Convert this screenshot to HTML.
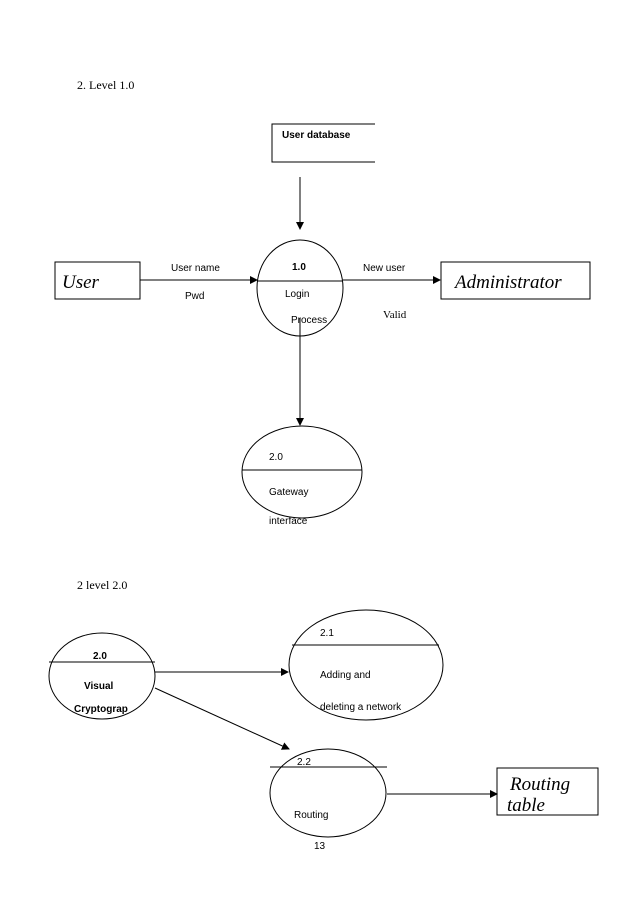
<!DOCTYPE html>
<html><head><style>
body{margin:0;background:#fff;}
svg text{font-family:"Liberation Sans",sans-serif;}
.s{font-family:"Liberation Serif",serif;}
</style></head><body>
<svg width="638" height="903" viewBox="0 0 638 903" xmlns="http://www.w3.org/2000/svg">
<defs><marker id="a" markerWidth="8" markerHeight="8" refX="7" refY="4" orient="auto" markerUnits="userSpaceOnUse"><path d="M0,0 L8,4 L0,8 z" fill="#000"/></marker></defs>
<g fill="none" stroke="#000" stroke-width="1">
<text x="77" y="89" class="s" font-size="12" fill="#000" stroke="none">2. Level  1.0</text>
<path d="M375,124 H272 V162 H375"/>
<line x1="300" y1="177" x2="300" y2="229" marker-end="url(#a)"/>
<rect x="55" y="262" width="85" height="37"/>
<rect x="441" y="262" width="149" height="37"/>
<ellipse cx="300" cy="288" rx="43" ry="48"/>
<line x1="258" y1="281" x2="343" y2="281"/>
<line x1="140" y1="280" x2="257" y2="280" marker-end="url(#a)"/>
<line x1="343" y1="280" x2="440" y2="280" marker-end="url(#a)"/>
<line x1="300" y1="318" x2="300" y2="425" marker-end="url(#a)"/>
<ellipse cx="302" cy="472" rx="60" ry="46"/>
<line x1="242" y1="470" x2="362" y2="470"/>
<ellipse cx="102" cy="676" rx="53" ry="43"/>
<line x1="49" y1="662" x2="155" y2="662"/>
<ellipse cx="366" cy="665" rx="77" ry="55"/>
<line x1="292" y1="645" x2="439" y2="645"/>
<line x1="155" y1="672" x2="288" y2="672" marker-end="url(#a)"/>
<line x1="155" y1="688" x2="289" y2="749" marker-end="url(#a)"/>
<ellipse cx="328" cy="793" rx="58" ry="44"/>
<line x1="270" y1="767" x2="387" y2="767"/>
<line x1="387" y1="794" x2="497" y2="794" marker-end="url(#a)"/>
<rect x="497" y="768" width="101" height="47"/>
</g>
<g fill="#000" font-size="10">
<text x="282" y="138" font-weight="bold">User database</text>
<text x="171" y="271">User name</text>
<text x="185" y="299">Pwd</text>
<text x="292" y="270" font-weight="bold">1.0</text>
<text x="363" y="271">New user</text>
<text x="285" y="297">Login</text>
<text x="291" y="323">Process</text>
<text x="383" y="318" class="s" font-size="11">Valid</text>
<text x="62" y="288" class="s" font-size="19" font-style="italic">User</text>
<text x="455" y="288" class="s" font-size="19" font-style="italic">Administrator</text>
<text x="269" y="460">2.0</text>
<text x="269" y="495">Gateway</text>
<text x="269" y="524">interface</text>
<text x="77" y="589" class="s" font-size="12">2 level  2.0</text>
<text x="93" y="659" font-weight="bold">2.0</text>
<text x="84" y="689" font-weight="bold">Visual</text>
<text x="74" y="712" font-weight="bold">Cryptograp</text>
<text x="320" y="636">2.1</text>
<text x="320" y="678">Adding and</text>
<text x="320" y="710">deleting a network</text>
<text x="297" y="765">2.2</text>
<text x="294" y="818">Routing</text>
<text x="510" y="790" class="s" font-size="19" font-style="italic">Routing</text>
<text x="507" y="811" class="s" font-size="19" font-style="italic">table</text>
<text x="314" y="849">13</text>
</g>
</svg>
</body></html>
